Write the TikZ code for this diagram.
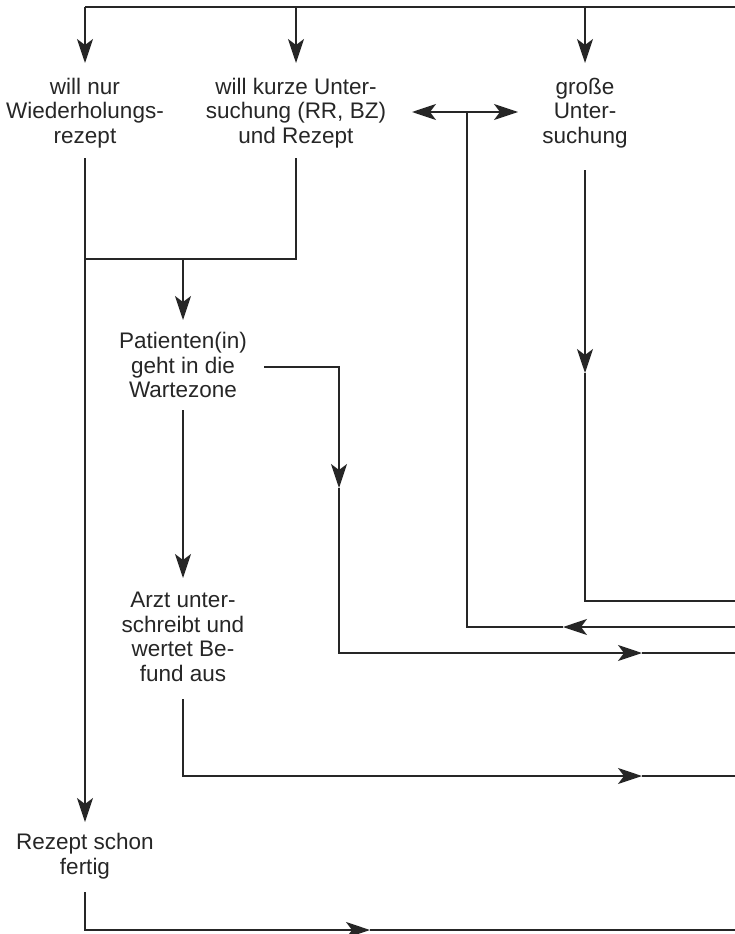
\documentclass[tikz,border=0pt]{standalone}
\usepackage{fontspec}
\setmainfont{Liberation Sans}
\usetikzlibrary{arrows.meta}
\begin{document}
\begin{tikzpicture}[x=1pt,y=-1pt,
  ln/.style={line width=1.3pt, draw=black!85},
  arr/.style={ln, -{Stealth[length=24pt,width=16pt,inset=6pt]}},
  txt/.style={align=center, inner sep=0pt, text=black!85,
    font=\fontsize{22.5pt}{24.5pt}\selectfont}]
\useasboundingbox (0,0) rectangle (735,934);
% text nodes
\node[txt] (n1) at (85,113) {will nur\\Wiederholungs-\\rezept};
\node[txt] (n2) at (296,113) {will kurze Unter-\\suchung (RR, BZ)\\und Rezept};
\node[txt] (n3) at (585,113) {große\\Unter-\\suchung};
\node[txt] (n4) at (183,365) {Patienten(in)\\geht in die\\Wartezone};
\node[txt] (n5) at (183,637) {Arzt unter-\\schreibt und\\wertet Be-\\fund aus};
\node[txt] (n6) at (85,856) {Rezept schon\\fertig};
% coordinates
\coordinate (t1) at (85,7);
\coordinate (t2) at (296,7);
\coordinate (t3) at (585,7);
\coordinate (tr) at (735,7);
\coordinate (a1) at (85,63);
\coordinate (a2) at (296,63);
\coordinate (a3) at (585,63);
\coordinate (b1) at (85,158);
\coordinate (b2) at (296,158);
\coordinate (j2) at (296,259);
\coordinate (j1) at (85,259);
\coordinate (jm) at (183,259);
\coordinate (a4) at (183,320);
\coordinate (r4) at (264,367);
\coordinate (c4) at (339,367);
\coordinate (m4) at (339,488);
\coordinate (d4) at (339,653);
\coordinate (h4) at (642,653);
\coordinate (e4) at (735,653);
\coordinate (b4) at (183,410);
\coordinate (a5) at (183,578);
\coordinate (b5) at (183,699);
\coordinate (d5) at (183,776);
\coordinate (h5) at (642,776);
\coordinate (e5) at (735,776);
\coordinate (a6) at (85,822);
\coordinate (b6) at (85,892);
\coordinate (d6) at (85,930);
\coordinate (h6) at (370,930);
\coordinate (e6) at (735,930);
\coordinate (e7) at (735,627);
\coordinate (h7) at (563,627);
\coordinate (d7) at (467,627);
\coordinate (u7) at (467,112);
\coordinate (l7) at (412,112);
\coordinate (r7) at (518,112);
\coordinate (b3) at (585,170);
\coordinate (m3) at (585,373);
\coordinate (d3) at (585,601);
\coordinate (e3) at (735,601);
% connectors
\draw[ln] (t1) -- (tr);
\draw[arr] (t1) -- (a1);
\draw[arr] (t2) -- (a2);
\draw[arr] (t3) -- (a3);
\draw[arr] (b1) -- (a6);
\draw[ln] (b2) -- (j2) -- (j1);
\draw[arr] (jm) -- (a4);
\draw[arr] (r4) -- (c4) -- (m4);
\draw[arr] (m4) -- (d4) -- (h4);
\draw[ln] (h4) -- (e4);
\draw[arr] (b4) -- (a5);
\draw[arr] (b5) -- (d5) -- (h5);
\draw[ln] (h5) -- (e5);
\draw[arr] (b6) -- (d6) -- (h6);
\draw[ln] (h6) -- (e6);
\draw[arr] (e7) -- (h7);
\draw[ln] (h7) -- (d7) -- (u7);
\draw[arr] (u7) -- (l7);
\draw[arr] (u7) -- (r7);
\draw[arr] (b3) -- (m3);
\draw[ln] (m3) -- (d3) -- (e3);
\end{tikzpicture}
\end{document}
